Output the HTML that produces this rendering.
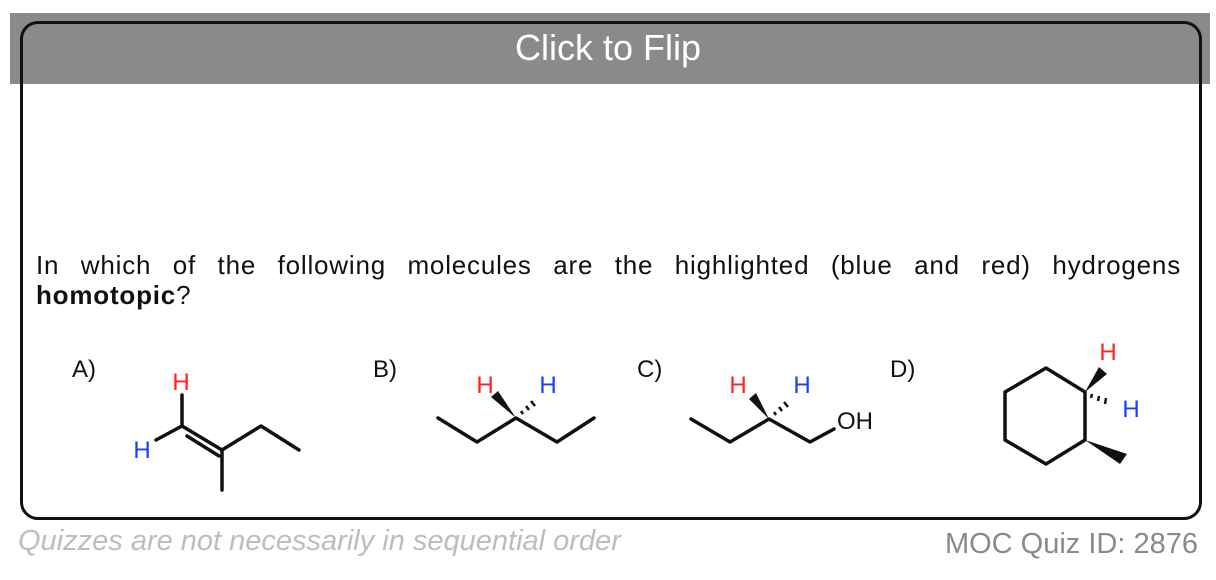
<!DOCTYPE html>
<html><head><style>
body{margin:0;width:1216px;height:580px;background:#fff;position:relative;overflow:hidden;font-family:"Liberation Sans",sans-serif}
.band{position:absolute;left:10px;top:13px;width:1200px;height:71px;background:#8a8a8a}
.box{position:absolute;left:20px;top:21px;width:1176px;height:493px;border:3px solid #111;border-radius:18px}
.title{position:absolute;left:0;width:1216px;top:27px;text-align:center;color:#fff;font-size:36px}
.q{position:absolute;left:36px;top:250px;width:1145px;font-size:26px;letter-spacing:0.8px;line-height:31px;text-align:justify;text-align-last:justify;color:#111}
.q2{position:absolute;left:36px;top:280px;font-size:26px;letter-spacing:0.8px;line-height:31px;color:#111}
.foot1{position:absolute;left:18px;top:525px;font-size:29px;font-style:italic;color:#bdbdbd}
.foot2{position:absolute;right:18px;top:528px;font-size:29px;color:#8a8a8a}
svg{position:absolute;left:0;top:0}
</style></head><body>
<div class="band"></div>
<div class="box"></div>
<div class="title">Click to Flip</div>
<div class="q">In which of the following molecules are the highlighted (blue and red) hydrogens</div>
<div class="q2"><b>homotopic</b>?</div>
<div class="foot1">Quizzes are not necessarily in sequential order</div>
<div class="foot2">MOC Quiz ID: 2876</div>
<svg width="1216" height="580" font-family="Liberation Sans, sans-serif">
<g font-size="24" fill="#111">
<text x="72" y="377">A)</text><text x="373" y="377">B)</text><text x="637" y="377">C)</text><text x="890" y="377">D)</text>
</g>
<g stroke="#111" stroke-width="3.5" fill="none" stroke-linecap="round" stroke-linejoin="round">
<line x1="182" y1="395" x2="182" y2="426"/>
<line x1="156" y1="440" x2="182" y2="426"/>
<polyline points="182,426 222,450 261,426 299,450"/>
<line x1="187" y1="436" x2="219" y2="456"/>
<line x1="222" y1="450" x2="222" y2="490"/>
<polyline points="438,418 477,442 516,418 557,442 594,418"/>
<polyline points="691,419 730,442 769,419 810,442 834,429"/>
<polygon points="1046,368 1085,392 1085,440 1046,464 1005,440 1005,392"/>
</g>
<g fill="#111">
<polygon points="516,418 491,397 498,391"/>
<polygon points="769,419 749,399 756,393"/>
<polygon points="1085,392 1099,367 1107,374"/>
<polygon points="1085,440 1120,464 1127,454"/>
</g>
<g stroke="#111" stroke-width="2.5">
<line x1="521" y1="411" x2="523" y2="414"/><line x1="526" y1="406" x2="529" y2="410"/><line x1="531" y1="401" x2="535" y2="406"/>
<line x1="774" y1="412" x2="776" y2="415"/><line x1="779" y1="407" x2="782" y2="411"/><line x1="784" y1="402" x2="788" y2="407"/>
<line x1="1092" y1="394" x2="1091" y2="398"/><line x1="1099" y1="396" x2="1098" y2="401"/><line x1="1106" y1="398" x2="1105" y2="404"/>
</g>
<g font-size="24">
<text x="181" y="390" fill="#f22" text-anchor="middle">H</text>
<text x="142" y="458" fill="#1a3cff" text-anchor="middle">H</text>
<text x="485" y="393" fill="#f22" text-anchor="middle">H</text>
<text x="548" y="393" fill="#1a3cff" text-anchor="middle">H</text>
<text x="738" y="393" fill="#f22" text-anchor="middle">H</text>
<text x="802" y="393" fill="#1a3cff" text-anchor="middle">H</text>
<text x="837" y="429" fill="#111">OH</text>
<text x="1108" y="360" fill="#f22" text-anchor="middle">H</text>
<text x="1131" y="417" fill="#1a3cff" text-anchor="middle">H</text>
</g>
</svg>
</body></html>
